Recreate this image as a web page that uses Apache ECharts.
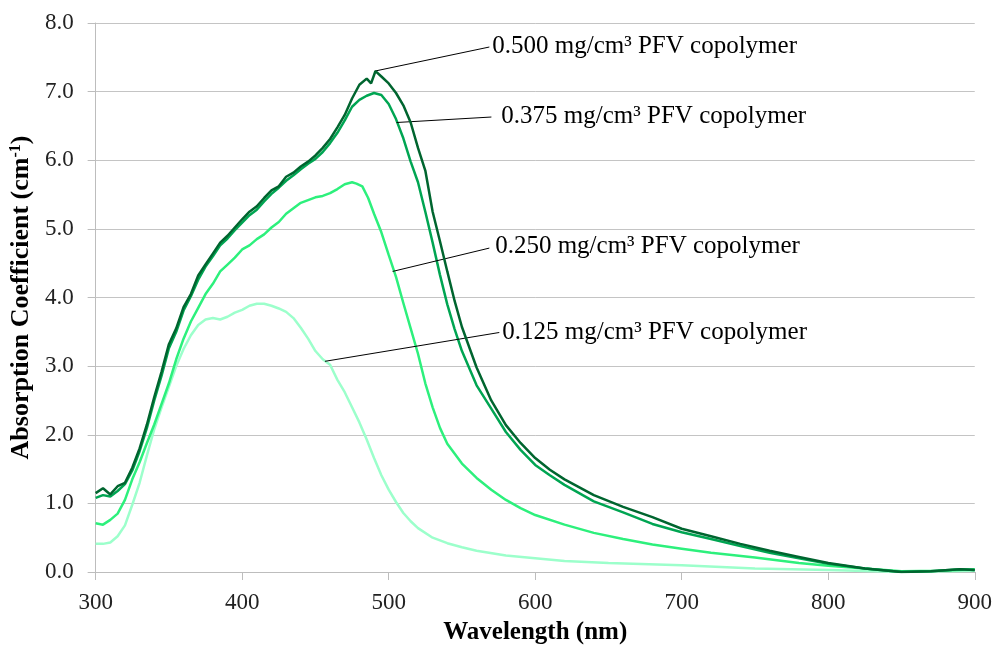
<!DOCTYPE html>
<html>
<head>
<meta charset="utf-8">
<script src="https://cdn.jsdelivr.net/npm/echarts@6/dist/echarts.min.js"></script>
<style>html,body{margin:0;padding:0;background:#fff;}#c{width:995px;height:650px;}</style>
</head>
<body>
<div id="c"></div>
<script>
// Wavelengths (nm) and absorption coefficients (cm^-1)
const wl500 = [300,305,310,315,320,325,330,335,340,345,350,355,360,365,370,375,380,385,390,395,400,405,410,415,420,425,430,435,440,445,450,455,460,465,470,475,480,485,488,491,495,500,505,510,515,520,525,530,535,540,545,550,560,570,580,590,600,610,620,640,660,680,700,720,740,760,780,800,825,850,870,890,900];
const abs500 = [1.15,1.22,1.13,1.25,1.30,1.52,1.80,2.15,2.55,2.92,3.32,3.55,3.86,4.05,4.32,4.48,4.64,4.80,4.90,5.02,5.14,5.25,5.33,5.45,5.56,5.62,5.76,5.82,5.91,5.98,6.07,6.18,6.31,6.48,6.66,6.90,7.10,7.19,7.12,7.30,7.22,7.12,6.98,6.80,6.55,6.18,5.85,5.25,4.82,4.38,3.95,3.57,2.98,2.50,2.14,1.88,1.66,1.49,1.35,1.12,0.95,0.80,0.63,0.52,0.41,0.31,0.22,0.13,0.05,0.00,0.01,0.04,0.03];

const wl375 = [300,305,310,315,320,325,330,335,340,345,350,355,360,365,370,375,380,385,390,395,400,405,410,415,420,425,430,435,440,445,450,455,460,465,470,475,480,485,490,495,500,505,510,515,520,525,530,535,540,545,550,560,570,580,590,600,610,620,640,660,680,700,720,740,760,780,800,825,850,870,890,900];
const abs375 = [1.08,1.12,1.10,1.18,1.28,1.48,1.76,2.10,2.50,2.86,3.26,3.50,3.81,4.02,4.26,4.45,4.60,4.76,4.86,4.98,5.09,5.20,5.28,5.40,5.51,5.60,5.70,5.78,5.87,5.95,6.02,6.12,6.25,6.40,6.58,6.78,6.88,6.94,6.98,6.95,6.82,6.60,6.32,5.98,5.68,5.25,4.80,4.33,3.90,3.54,3.22,2.72,2.38,2.04,1.78,1.56,1.41,1.27,1.03,0.87,0.70,0.58,0.48,0.38,0.28,0.20,0.12,0.05,0.00,0.01,0.04,0.03];

const wl250 = [300,305,310,315,320,325,330,335,340,345,350,355,360,365,370,375,380,385,390,395,400,405,410,415,420,425,430,435,440,445,450,455,460,465,470,475,478,482,486,490,495,500,505,510,515,520,525,530,535,540,550,560,570,580,590,600,620,640,660,680,700,720,750,780,800,825,850,875,900];
const abs250 = [0.71,0.69,0.76,0.85,1.05,1.35,1.60,1.88,2.15,2.45,2.75,3.10,3.40,3.65,3.85,4.05,4.20,4.38,4.48,4.58,4.70,4.76,4.85,4.92,5.02,5.10,5.22,5.30,5.38,5.42,5.46,5.48,5.52,5.58,5.65,5.68,5.66,5.62,5.45,5.22,4.95,4.62,4.30,3.92,3.55,3.18,2.75,2.40,2.10,1.87,1.58,1.37,1.20,1.05,0.93,0.83,0.69,0.57,0.48,0.40,0.34,0.28,0.21,0.13,0.09,0.05,0.01,0.02,0.04];

const wl125 = [300,305,310,315,320,325,330,335,340,345,350,355,360,365,370,375,380,385,390,395,400,405,410,415,420,425,430,435,440,445,450,455,460,465,470,475,480,485,490,495,500,505,510,515,520,530,540,550,560,580,600,620,650,700,750,800,850,900];
const abs125 = [0.41,0.41,0.43,0.52,0.68,0.98,1.30,1.70,2.08,2.40,2.70,3.00,3.25,3.45,3.60,3.68,3.70,3.68,3.72,3.78,3.82,3.88,3.91,3.91,3.88,3.84,3.79,3.70,3.56,3.40,3.22,3.10,3.02,2.80,2.62,2.40,2.18,1.93,1.66,1.41,1.20,1.02,0.86,0.74,0.64,0.50,0.42,0.36,0.31,0.24,0.20,0.16,0.13,0.10,0.05,0.03,0.00,0.02];

const seriesNames = ['0.125 mg/cm³ PFV copolymer','0.250 mg/cm³ PFV copolymer','0.375 mg/cm³ PFV copolymer','0.500 mg/cm³ PFV copolymer'];
const seriesColors = ['#9CFFCB','#2DF07C','#00A552','#00652F'];

// Leader lines for annotations: [start on curve, end at label] in data units
const leader125 = [[456.5,3.07],[575.5,3.49]];
const leader250 = [[502.7,4.38],[568.7,4.72]];
const leader375 = [[505.4,6.55],[570.1,6.63]];
const leader500 = [[490.7,7.30],[568.7,7.65]];

const xTicks = {min:300,max:900,interval:100};
const yTicks = {min:0,max:8,interval:1};

function pairs(xs, ys){ return xs.map((x,i)=>[x, ys[i]]); }
const FONT = '"Liberation Serif","Times New Roman",serif';

function leader(coords, dist){
  return {
    silent: true, symbol: 'none', animation: false,
    lineStyle: {color:'#000', width:1, type:'solid'},
    label: {show:true, position:'end', distance: dist, color:'#000', fontFamily: FONT, fontSize: 25,
            formatter: function(p){ return p.name; }},
    emphasis: {disabled:true}
  };
}

const chart = echarts.init(document.getElementById('c'), null, {renderer:'canvas'});
const dataSets = [pairs(wl125,abs125), pairs(wl250,abs250), pairs(wl375,abs375), pairs(wl500,abs500)];
const leaders = [leader125, leader250, leader375, leader500];
const dists = [3, 6, 10, 3];

chart.setOption({
  animation: false,
  backgroundColor: '#fff',
  grid: {left: 93, right: 20, top: 23, bottom: 76},
  xAxis: {
    type: 'value', min: xTicks.min, max: xTicks.max, interval: xTicks.interval,
    name: 'Wavelength (nm)', nameLocation: 'middle', nameGap: 48,
    nameTextStyle: {fontFamily: FONT, fontSize: 25, fontWeight: 'bold', color: '#000'},
    axisLine: {lineStyle: {color: '#BDBDBD', width: 1}},
    axisTick: {show: true, length: 8, lineStyle: {color: '#BDBDBD'}},
    axisLabel: {fontFamily: FONT, fontSize: 23, color: '#222', margin: 19},
    splitLine: {show: false}
  },
  yAxis: {
    type: 'value', min: yTicks.min, max: yTicks.max, interval: yTicks.interval,
    name: '{b|Absorption Coefficient (cm}{s|-1}{b|)}', nameLocation: 'middle', nameGap: 59, nameRotate: 90,
    nameTextStyle: {
      rich: {
        b: {fontFamily: FONT, fontSize: 26, fontWeight: 'bold', color: '#000'},
        s: {fontFamily: FONT, fontSize: 16, fontWeight: 'bold', color: '#000', verticalAlign: 'top'}
      }
    },
    axisLine: {show: true, lineStyle: {color: '#BDBDBD', width: 1}},
    axisTick: {show: true, length: 8, lineStyle: {color: '#BDBDBD'}},
    axisLabel: {fontFamily: FONT, fontSize: 23, color: '#222', margin: 22,
                formatter: function(v){ return v.toFixed(1); }},
    splitLine: {show: true, lineStyle: {color: '#C4C4C4', width: 1}}
  },
  series: dataSets.map((d, i) => ({
    name: seriesNames[i], type: 'line', data: d, showSymbol: false, symbol: 'none',
    smooth: false, clip: true,
    lineStyle: {color: seriesColors[i], width: 2.5},
    itemStyle: {color: seriesColors[i]},
    emphasis: {disabled: true},
    z: 2 + i,
    markLine: Object.assign(leader(leaders[i], dists[i]), {
      data: [[{coord: leaders[i][0], name: seriesNames[i]}, {coord: leaders[i][1]}]]
    })
  }))
});
</script>
</body>
</html>
